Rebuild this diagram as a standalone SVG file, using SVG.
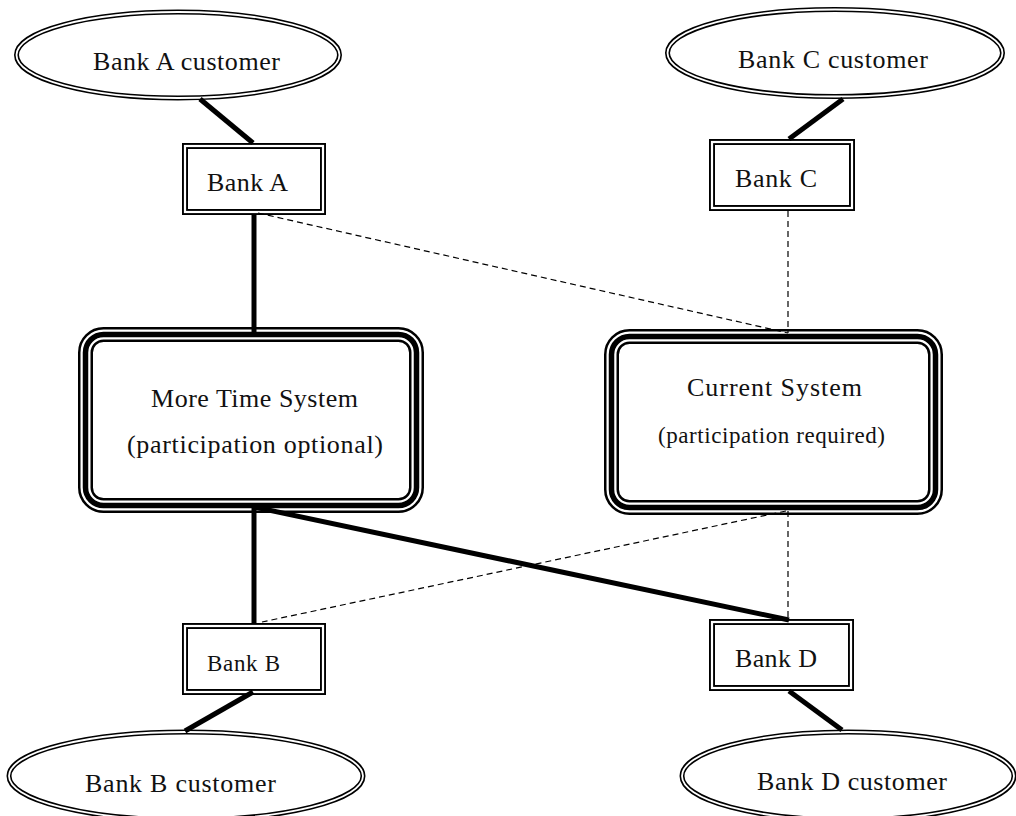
<svg xmlns="http://www.w3.org/2000/svg" width="1016" height="816" viewBox="0 0 1016 816" font-family="'Liberation Serif', 'DejaVu Serif', serif">
  <style>
    text { font-family: "Liberation Serif", "DejaVu Serif", serif; font-size: 26px; fill: #111; text-anchor: middle; }
    .small { font-size: 23px; }
    /* double outline: black band with a white core */
    .d-out { fill: #fff; stroke: #000; stroke-width: 6; }
    .d-in  { fill: none; stroke: #fff; stroke-width: 2.2; }
    .e-out { fill: #fff; stroke: #000; stroke-width: 5; }
    .e-in  { fill: none; stroke: #fff; stroke-width: 1.8; }
    /* triple outline: thin / thick / thin */
    .t-out { fill: #fff; stroke: #000; stroke-width: 15; }
    .t-mid { fill: none; stroke: #fff; stroke-width: 10; }
    .t-core { fill: none; stroke: #000; stroke-width: 5.5; }
    .solid { stroke: #000; stroke-width: 5; fill: none; }
    .dash { stroke: #000; stroke-width: 1.2; stroke-dasharray: 6 4; fill: none; }
  </style>

  <!-- customers -->
  <g id="bank-a-customer">
    <ellipse class="e-out" cx="178" cy="55" rx="161.5" ry="43"/>
    <ellipse class="e-in" cx="178" cy="55" rx="161.5" ry="43"/>
    <text x="186.5" y="70" textLength="187">Bank A customer</text>
  </g>
  <g id="bank-c-customer">
    <ellipse class="e-out" cx="835" cy="53" rx="167.5" ry="43.5"/>
    <ellipse class="e-in" cx="835" cy="53" rx="167.5" ry="43.5"/>
    <text x="833" y="68" textLength="190">Bank C customer</text>
  </g>
  <g id="bank-b-customer">
    <ellipse class="e-out" cx="186" cy="776" rx="177" ry="44"/>
    <ellipse class="e-in" cx="186" cy="776" rx="177" ry="44"/>
    <text x="180.5" y="792" textLength="191">Bank B customer</text>
  </g>
  <g id="bank-d-customer">
    <ellipse class="e-out" cx="848" cy="776" rx="166" ry="44"/>
    <ellipse class="e-in" cx="848" cy="776" rx="166" ry="44"/>
    <text x="852" y="790" textLength="190">Bank D customer</text>
  </g>

  <!-- banks -->
  <g id="bank-a">
    <rect class="d-out" x="185" y="146" width="138" height="66"/>
    <rect class="d-in" x="185" y="146" width="138" height="66"/>
    <text x="247.5" y="191" textLength="81">Bank A</text>
  </g>
  <g id="bank-c">
    <rect class="d-out" x="712" y="142" width="140" height="66"/>
    <rect class="d-in" x="712" y="142" width="140" height="66"/>
    <text x="776" y="187" textLength="82">Bank C</text>
  </g>
  <g id="bank-b">
    <rect class="d-out" x="185" y="626" width="138" height="66"/>
    <rect class="d-in" x="185" y="626" width="138" height="66"/>
    <text class="small" x="243.5" y="671" textLength="73">Bank B</text>
  </g>
  <g id="bank-d">
    <rect class="d-out" x="712" y="622" width="139" height="66"/>
    <rect class="d-in" x="712" y="622" width="139" height="66"/>
    <text x="776" y="667" textLength="82">Bank D</text>
  </g>

  <!-- systems -->
  <g id="more-time-system">
    <rect class="t-out" x="85.5" y="334.5" width="331" height="171" rx="18"/>
    <rect class="t-mid" x="85.5" y="334.5" width="331" height="171" rx="18"/>
    <rect class="t-core" x="85.5" y="334.5" width="331" height="171" rx="18"/>
    <text x="254.5" y="407" textLength="207">More Time System</text>
    <text x="255" y="453" textLength="256">(participation optional)</text>
  </g>
  <g id="current-system">
    <rect class="t-out" x="611.5" y="336.5" width="324" height="171" rx="18"/>
    <rect class="t-mid" x="611.5" y="336.5" width="324" height="171" rx="18"/>
    <rect class="t-core" x="611.5" y="336.5" width="324" height="171" rx="18"/>
    <text x="774.5" y="396" textLength="175">Current System</text>
    <text class="small" x="771.5" y="443" textLength="227">(participation required)</text>
  </g>

  <!-- connectors -->
  <g id="connectors">
    <line class="solid" x1="200" y1="99" x2="253" y2="143"/>
    <line class="solid" x1="843" y1="99" x2="789" y2="139"/>
    <line class="solid" x1="254" y1="215" x2="254" y2="335"/>
    <line class="solid" x1="254" y1="506" x2="254" y2="623"/>
    <line class="solid" x1="254" y1="507" x2="789" y2="620"/>
    <line class="solid" x1="253" y1="692" x2="185" y2="731"/>
    <line class="solid" x1="789" y1="691" x2="842" y2="730"/>
    <line class="dash" x1="258" y1="213" x2="788" y2="333"/>
    <line class="dash" x1="788" y1="211" x2="788" y2="333"/>
    <line class="dash" x1="788" y1="511" x2="788" y2="620"/>
    <line class="dash" x1="786" y1="511" x2="262" y2="622"/>
  </g>
</svg>
